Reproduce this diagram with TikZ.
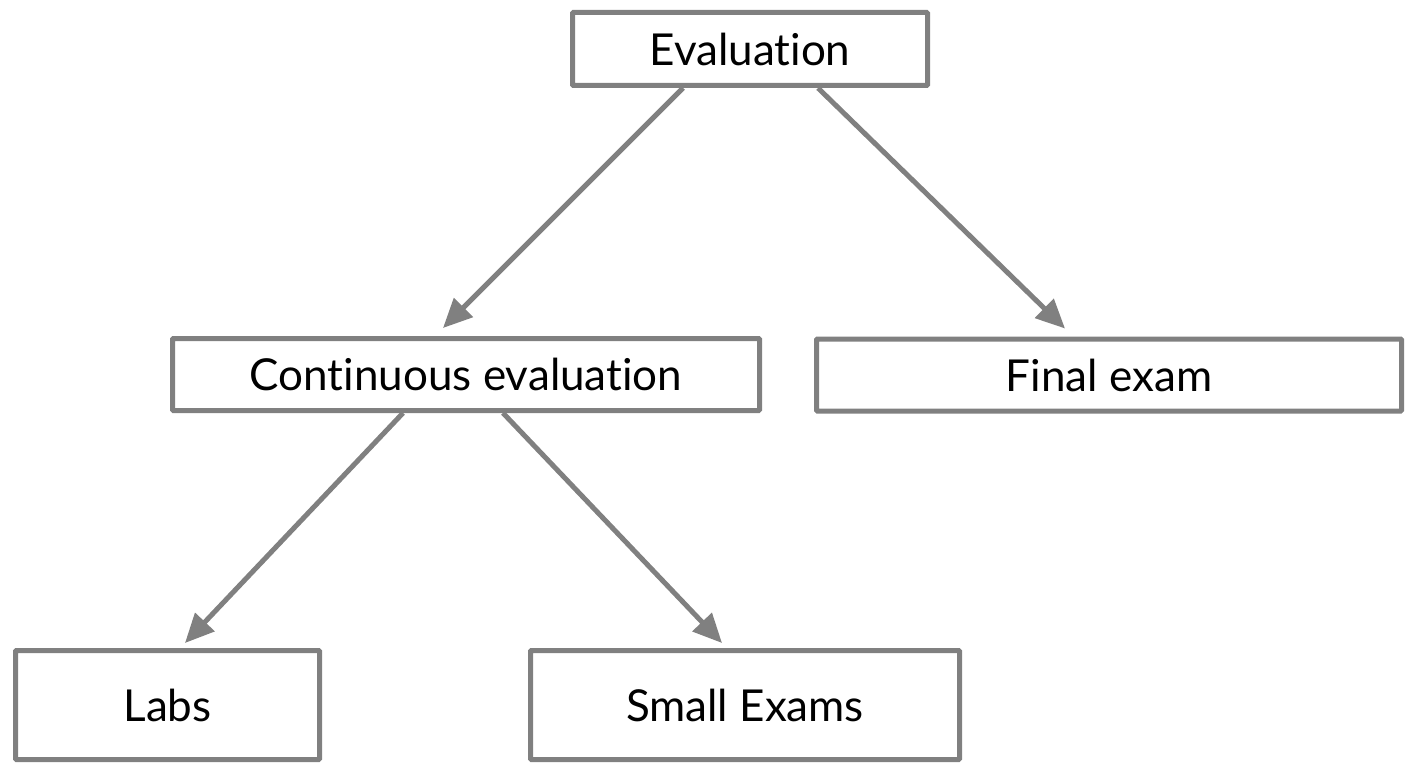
\documentclass[tikz,border=0pt]{standalone}
\usepackage{fontspec}
\setmainfont{Lato}[Ligatures=NoCommon]
\usetikzlibrary{arrows.meta}
\definecolor{edgegray}{HTML}{808080}
\begin{document}
\begin{tikzpicture}[x=1pt,y=-1pt,
  box/.style={draw=edgegray, line width=5pt, fill=white, inner sep=0pt,
    rounded corners=1pt, font=\fontsize{44}{50}\selectfont, text=black},
  link/.style={draw=edgegray, line width=5pt,
    -{Triangle[length=29pt,width=26pt]}}]
  \useasboundingbox (0,0) rectangle (1406,765);
  \fill[white] (0,0) rectangle (1406,765);

  % tree of evaluation parts
  \node[box, minimum width=355pt, minimum height=73pt] (ev)    at (750,49)    {Evaluation};
  \node[box, minimum width=587pt, minimum height=72pt] (cont)  at (466,374.5) {Continuous evaluation};
  \node[box, minimum width=585pt, minimum height=72pt] (final) at (1109,375)  {Final exam};
  \node[box, minimum width=304pt, minimum height=109pt] (labs) at (167.5,705) {Labs};
  \node[box, minimum width=429pt, minimum height=109pt] (small) at (745,705)  {Small Exams};

  % connectors
  \draw[link] ([xshift=-67pt]ev.south) -- ([xshift=-23pt,yshift=8pt]cont.north);
  \draw[link] ([xshift=68pt]ev.south) -- ([xshift=-44pt,yshift=8pt]final.north);
  \draw[link] ([xshift=-63pt]cont.south) -- ([xshift=17.5pt,yshift=5pt]labs.north);
  \draw[link] ([xshift=37pt]cont.south) -- ([xshift=-23pt,yshift=5pt]small.north);
\end{tikzpicture}
\end{document}
